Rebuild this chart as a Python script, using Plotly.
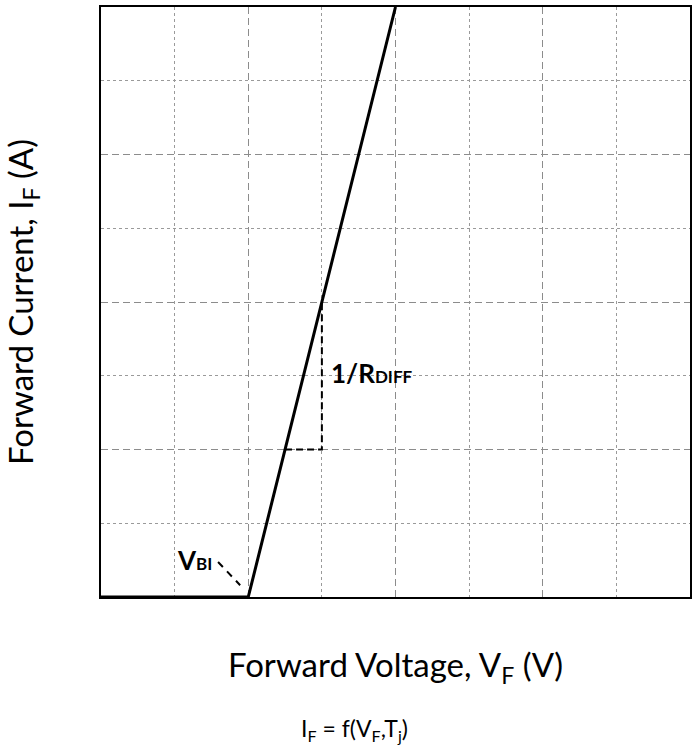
import plotly.graph_objects as go

# Data
voltage = [0, 2, 4]          # forward voltage (grid units)
current = [0, 0, 8]          # forward current (grid units)
tri_x = [2.5, 3, 3]          # 1/Rdiff triangle
tri_y = [2, 2, 4]
vbi_lead_x = [1.59, 1.89]
vbi_lead_y = [0.475, 0.16]

fig = go.Figure()
fig.add_trace(go.Scatter(x=tri_x, y=tri_y, mode="lines",
                         line=dict(color="black", width=2, dash="7px,4px"),
                         hoverinfo="skip", showlegend=False))
fig.add_trace(go.Scatter(x=vbi_lead_x, y=vbi_lead_y, mode="lines",
                         line=dict(color="black", width=2, dash="7px,6px"),
                         hoverinfo="skip", showlegend=False))
fig.add_trace(go.Scatter(x=voltage, y=current, mode="lines",
                         line=dict(color="black", width=3),
                         showlegend=False))

axis_common = dict(range=[0, 8], showticklabels=False, ticks="",
                   showline=True, linecolor="black", linewidth=2, mirror=True,
                   zeroline=False, dtick=2, tick0=0, automargin=False,
                   showgrid=True, gridcolor="#8c8c8c", gridwidth=1, griddash="7px,4px",
                   minor=dict(dtick=1, tick0=0, showgrid=True, gridcolor="#9a9a9a",
                              gridwidth=1, griddash="dot"))

fig.update_xaxes(**axis_common,
                 title=dict(text="Forward Voltage, V<sub>F</sub> (V)",
                            font=dict(family="Lato", size=33, color="black"),
                            standoff=56))
fig.update_yaxes(**axis_common,
                 title=dict(text="Forward Current, I<sub>F</sub> (A)",
                            font=dict(family="Lato", size=33, color="black"),
                            standoff=56))

lab_font = "Lato"
fig.add_annotation(x=3.1, y=3.04, xref="x", yref="y", xanchor="left", yanchor="middle",
                   text="<b>1/R<span style='font-size:17px'>DIFF</span></b>",
                   showarrow=False, font=dict(family=lab_font, size=26, color="black"))
fig.add_annotation(x=1.53, y=0.5, xref="x", yref="y", xanchor="right", yanchor="middle",
                   text="<b>V<span style='font-size:17px'>BI</span></b>",
                   showarrow=False, font=dict(family=lab_font, size=26, color="black"))
fig.add_annotation(x=0.431, y=-0.225, xref="paper", yref="paper", xanchor="center", yanchor="middle",
                   text="I<sub>F</sub> = f(V<sub>F</sub>,T<sub>j</sub>)",
                   showarrow=False, font=dict(family="Lato", size=23, color="black"))

fig.update_layout(width=696, height=749,
                  margin=dict(l=101, r=6, t=7, b=152),
                  plot_bgcolor="white", paper_bgcolor="white")

fig.write_html("out.html",
               config={"displayModeBar": False},
               post_script="document.body.style.margin='0';"
                           "document.documentElement.style.overflow='hidden';")
